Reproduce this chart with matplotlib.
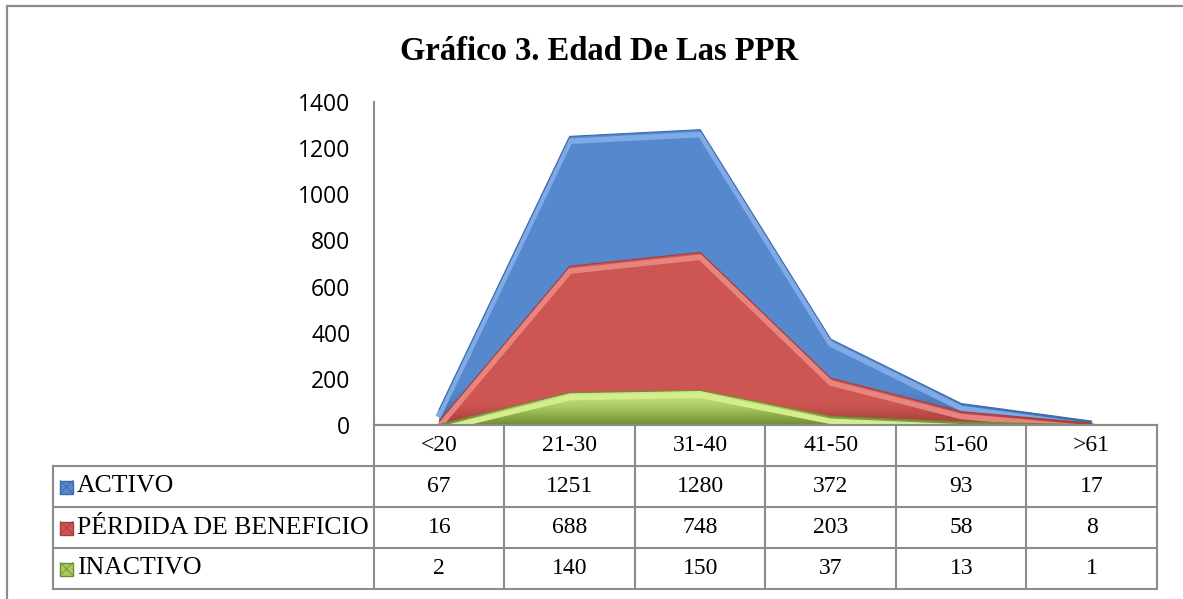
import numpy as np
import matplotlib.pyplot as plt
import matplotlib.transforms as mtransforms
from matplotlib.lines import Line2D
from matplotlib.patches import Rectangle
from matplotlib.colors import LinearSegmentedColormap

# datos del grafico
categorias = ['<20', '21-30', '31-40', '41-50', '51-60', '>61']
nombres = ['ACTIVO', 'PÉRDIDA DE BENEFICIO', 'INACTIVO']
activo = [67, 1251, 1280, 372, 93, 17]
perdida = [16, 688, 748, 203, 58, 8]
inactivo = [2, 140, 150, 37, 13, 1]
valores_y = [0, 200, 400, 600, 800, 1000, 1200, 1400]

series = [activo, perdida, inactivo]
colores = ['#5588CD', '#CD5652', '#A9CB62']
claros = ['#7FAAE6', '#E8847F', '#D4EE8E']
oscuros = ['#3B6AA8', '#A63F3C', '#6F8C35']

W, H = 1183, 599
fig = plt.figure(figsize=(W / 100, H / 100), dpi=100)
fig.patch.set_facecolor('white')

def fx(px):
    return px / W

def fy(py):
    return 1 - py / H

gris = '#8C8C8C'
serif = ['Liberation Serif', 'DejaVu Serif']
sans = ['Open Sans', 'DejaVu Sans']

# borde de la figura (solo arriba e izquierda visibles)
fig.add_artist(Line2D([fx(7), 1], [fy(6), fy(6)], color=gris, lw=1.6))
fig.add_artist(Line2D([fx(7), fx(7)], [fy(6), 0], color=gris, lw=1.6))

# titulo
fig.text(fx(599), fy(51), 'Gráfico 3. Edad De Las PPR', ha='center', va='center',
         fontsize=23.5, fontweight='bold', family=serif)

# area del grafico
x0, x1 = 374, 1157
ytop, ybase = 102, 425
ax = fig.add_axes([fx(x0), fy(ybase), fx(x1 - x0), (ybase - ytop) / H])
n = len(categorias)
xs = np.arange(n)
ax.set_yticks(valores_y)
ax.set_yticklabels([str(v) for v in valores_y], family=sans, fontsize=16.5)
ax.tick_params(axis='y', length=0, pad=17)
ax.set_xticks([])
for s in ['top', 'right']:
    ax.spines[s].set_visible(False)
ax.spines['left'].set_color(gris)
ax.spines['bottom'].set_color(gris)
ax.spines['left'].set_linewidth(1.5)
ax.spines['bottom'].set_linewidth(1.5)

desplazado = ax.transData + mtransforms.ScaledTranslation(0, -3.5 / 72, fig.dpi_scale_trans)
for i, vals in enumerate(series):
    poly = ax.fill_between(xs, 0, vals, color=colores[i], lw=0, zorder=2 + i)
    # degradado vertical recortado al area
    grad = np.linspace(0, 1, 100).reshape(-1, 1)
    if i == 2:
        cmap = LinearSegmentedColormap.from_list('g%d' % i, [oscuros[i], colores[i], claros[i]])
    else:
        cmap = LinearSegmentedColormap.from_list('g%d' % i, [oscuros[i], colores[i]] + [colores[i]] * 8)
    im = ax.imshow(grad, extent=(-0.5, n - 0.5, 0, max(vals) * 1.02), origin='lower',
                   cmap=cmap, aspect='auto', zorder=2 + i, interpolation='bilinear')
    im.set_clip_path(poly.get_paths()[0], transform=ax.transData)
    poly.set_alpha(0)
    # bisel superior
    ax.plot(xs, vals, color=claros[i], lw=4, transform=desplazado, zorder=2.5 + i,
            solid_joinstyle='miter')
    ax.plot(xs, vals, color=oscuros[i], lw=0.8, zorder=2.6 + i, solid_joinstyle='miter')
ax.set_xlim(-0.5, n - 0.5)
ax.set_ylim(0, 1400)

# tabla de datos
leg_x = 53
fila_h = 41
col_w = (x1 - x0) / n
filas_y = [ybase + fila_h * k for k in range(len(series) + 2)]
tab_bottom = filas_y[-1]
axt = fig.add_axes([0, 0, 1, 1])
axt.set_xlim(0, W)
axt.set_ylim(H, 0)
axt.axis('off')
lk = dict(color=gris, lw=1.5, solid_capstyle='projecting')
# lineas horizontales
axt.plot([x0, x1], [filas_y[0], filas_y[0]], **lk)
for yy in filas_y[1:]:
    axt.plot([leg_x, x1], [yy, yy], **lk)
# lineas verticales
for k in range(n + 1):
    xx = x0 + col_w * k
    axt.plot([xx, xx], [filas_y[0], tab_bottom], **lk)
axt.plot([leg_x, leg_x], [filas_y[1], tab_bottom], **lk)

fs_tab = 17
for k, cat in enumerate(categorias):
    axt.text(x0 + col_w * (k + 0.5), (filas_y[0] + filas_y[1]) / 2, cat, ha='center',
             va='center', fontsize=fs_tab, family=serif)
for r, vals in enumerate(series):
    yc = (filas_y[r + 1] + filas_y[r + 2]) / 2
    axt.add_patch(Rectangle((leg_x + 7, yc - 6), 13, 13, facecolor=colores[r],
                            edgecolor=oscuros[r], lw=1))
    axt.plot([leg_x + 7, leg_x + 20], [yc - 6, yc + 7], color=oscuros[r], lw=0.6)
    axt.plot([leg_x + 7, leg_x + 20], [yc + 7, yc - 6], color=oscuros[r], lw=0.6)
    axt.text(leg_x + 24, yc, nombres[r], ha='left', va='center', fontsize=18.5, family=serif)
    for k, v in enumerate(vals):
        axt.text(x0 + col_w * (k + 0.5), yc, str(v), ha='center', va='center',
                 fontsize=fs_tab, family=serif)

fig.savefig('out.png', dpi=100)
